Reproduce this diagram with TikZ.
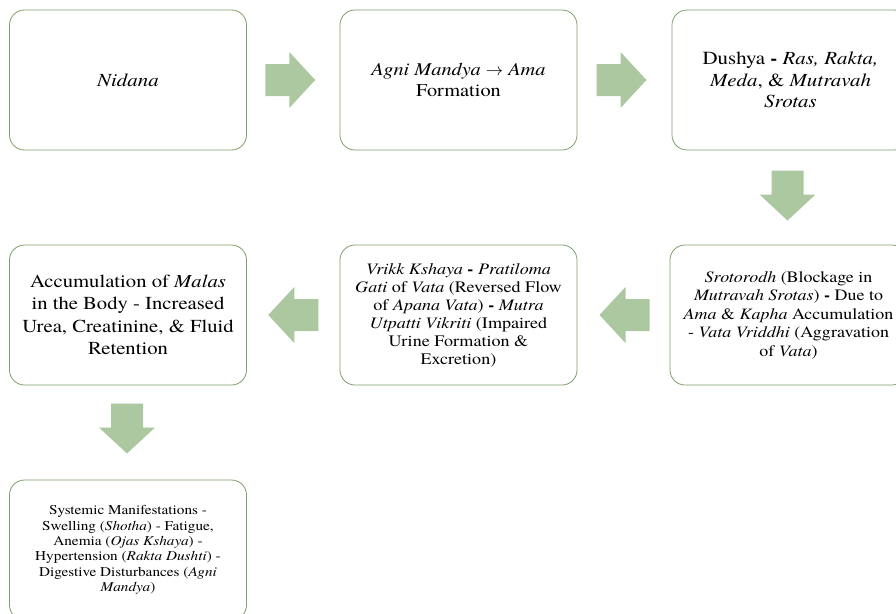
\documentclass[tikz,border=0pt]{standalone}
\usepackage{fontspec}
\setmainfont{texgyretermes}[Extension=.otf,UprightFont=*-regular,
  ItalicFont=*-italic,BoldFont=*-bold,BoldItalicFont=*-bolditalic,
  FakeStretch=1.13]
\usetikzlibrary{calc}

\definecolor{boxgreen}{RGB}{128,158,108}
\definecolor{arrowgreen}{RGB}{172,200,160}

\begin{document}
\begin{tikzpicture}[x=1pt,y=-1pt,
  stage/.style={draw=boxgreen,line width=0.8pt,fill=white,rounded corners=15pt,
    minimum width=237pt,minimum height=140pt,align=center,inner sep=4pt},
  fatarrow/.pic={\fill[arrowgreen] (-25,-16) -- (-1,-16) -- (-1,-28) -- (25,0)
    -- (-1,28) -- (-1,16) -- (-25,16) -- cycle;}]

  % page and clipping
  \fill[white,use as bounding box] (0,0) rectangle (896,613);
  \clip (0,0) rectangle (896,613);

  % first row
  \node[stage,font=\fontsize{18.5}{21.5}\selectfont] (nidana) at (128,80) {\textit{Nidana}};
  \node[stage,font=\fontsize{18}{21.5}\selectfont] (agni) at (458.5,80)
    {\textit{Agni Mandya} $\rightarrow$ \textit{Ama}\\Formation};
  \node[stage,font=\fontsize{18.5}{21.5}\selectfont] (dushya) at (790.5,80)
    {Dushya \textbf{-} \textit{Ras, Rakta,}\\\textit{Meda}, \& \textit{Mutravah}\\\textit{Srotas}};

  % second row
  \node[stage,font=\fontsize{15.9}{18.5}\selectfont] (sroto) at (788.5,315)
    {\textit{Srotorodh} (Blockage in\\\textit{Mutravah Srotas}) \textbf{-} Due to\\
     \textit{Ama} \& \textit{Kapha} Accumulation\\- \textit{Vata Vriddhi} (Aggravation\\of \textit{Vata})};
  \node[stage,font=\fontsize{16}{18}\selectfont] (vrikk) at (458.5,315)
    {\textit{Vrikk Kshaya} \textbf{-} \textit{Pratiloma}\\\textit{Gati} of \textit{Vata} (Reversed Flow\\
     of \textit{Apana Vata}) \textbf{-} \textit{Mutra}\\\textit{Utpatti Vikriti} (Impaired\\
     Urine Formation \&\\Excretion)};
  \node[stage,font=\fontsize{18.3}{22.5}\selectfont] (malas) at (128,315)
    {Accumulation of \textit{Malas}\\in the Body - Increased\\Urea, Creatinine, \& Fluid\\Retention};

  % last box
  \node[stage,font=\fontsize{13.5}{15.3}\selectfont] (systemic) at (128,550)
    {Systemic Manifestations -\\Swelling (\textit{Shotha}) - Fatigue,\\Anemia (\textit{Ojas Kshaya}) -\\
     Hypertension (\textit{Rakta Dushti}) -\\Digestive Disturbances (\textit{Agni}\\\textit{Mandya})};

  % block arrows
  \pic at ($(nidana.east)!0.5!(agni.west)+(-3,0)$) {fatarrow};
  \pic at ($(agni.east)!0.5!(dushya.west)+(-3,0)$) {fatarrow};
  \pic[rotate=-90] at ($(dushya.south)!0.5!(sroto.north)+(-2,-2)$) {fatarrow};
  \pic[rotate=180] at ($(sroto.west)!0.5!(vrikk.east)+(1,0)$) {fatarrow};
  \pic[rotate=180] at ($(vrikk.west)!0.5!(malas.east)$) {fatarrow};
  \pic[rotate=-90] at ($(malas.south)!0.5!(systemic.north)+(-1,-4)$) {fatarrow};

\end{tikzpicture}
\end{document}
